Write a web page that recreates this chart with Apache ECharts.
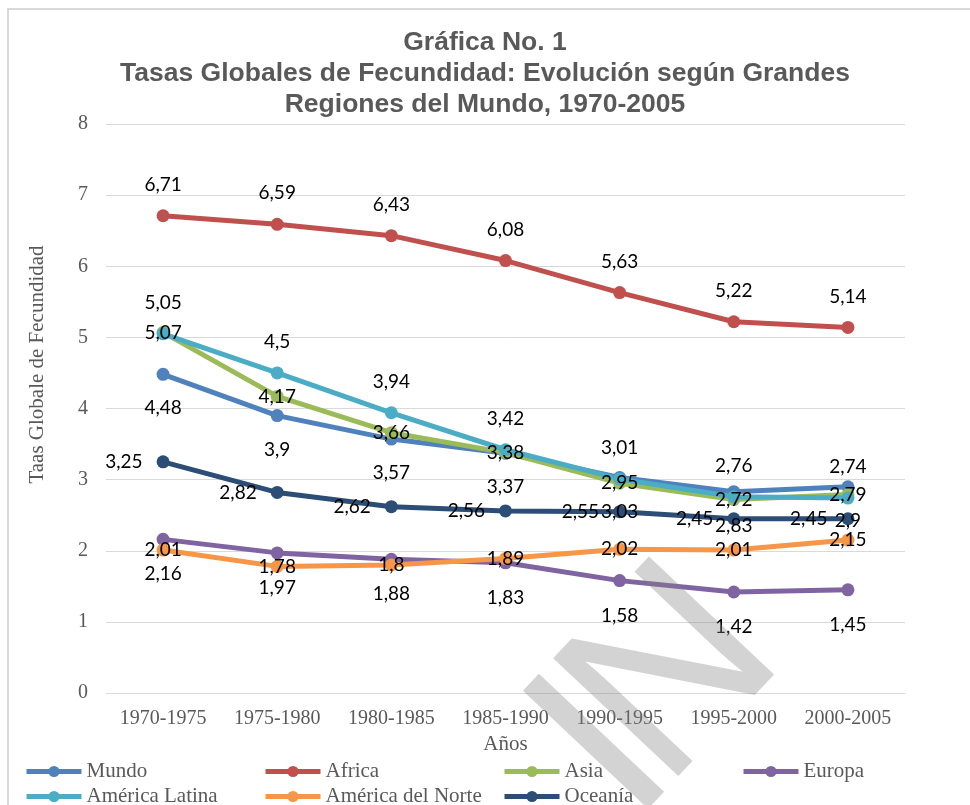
<!DOCTYPE html>
<html>
<head>
<meta charset="utf-8">
<script src="https://cdn.jsdelivr.net/npm/echarts@6/dist/echarts.min.js"></script>
<style>
  html, body { margin: 0; padding: 0; background: #fff; }
  #main { width: 970px; height: 805px; }
</style>
</head>
<body>
<div id="main"></div>
<script>
var periodos = ['1970-1975', '1975-1980', '1980-1985', '1985-1990', '1990-1995', '1995-2000', '2000-2005'];
var mundo = [4.48, 3.9, 3.57, 3.37, 3.03, 2.83, 2.9];
var africa = [6.71, 6.59, 6.43, 6.08, 5.63, 5.22, 5.14];
var asia = [5.07, 4.17, 3.66, 3.38, 2.95, 2.72, 2.79];
var europa = [2.16, 1.97, 1.88, 1.83, 1.58, 1.42, 1.45];
var americaLatina = [5.05, 4.5, 3.94, 3.42, 3.01, 2.76, 2.74];
var americaNorte = [2.01, 1.78, 1.8, 1.89, 2.02, 2.01, 2.15];
var oceania = [3.25, 2.82, 2.62, 2.56, 2.55, 2.45, 2.45];

var serif = '"Liberation Serif", "DejaVu Serif", serif';
var gris = '#595959';

function serie(nombre, datos, color, pos, dist) {
    return {
        name: nombre,
        type: 'line',
        data: datos,
        symbol: 'circle',
        symbolSize: 13,
        lineStyle: { width: 5, color: color },
        itemStyle: { color: color, borderWidth: 0 },
        label: {
            show: true,
            position: pos,
            distance: dist,
            color: '#000',
            fontFamily: 'Lato, "Open Sans", sans-serif',
            fontSize: 19,
            textBorderWidth: 0,
            formatter: function(p) { return String(p.value).replace('.', ','); }
        },
        emphasis: { disabled: true },
        animation: false
    };
}

// leyenda en columnas fijas, como en Excel
var nombresLeyenda = [['Mundo', 'Africa', 'Asia', 'Europa'], ['América Latina', 'América del Norte', 'Oceanía']];
var columnas = [24, 263, 502, 741];
var filas = [761, 786];
var leyendas = [];
nombresLeyenda.forEach(function(fila, i) {
    fila.forEach(function(nombre, j) {
        leyendas.push({
            left: columnas[j],
            top: filas[i],
            padding: 0,
            itemWidth: 55,
            itemHeight: 14,
            selectedMode: false,
            lineStyle: { width: 5 },
            data: [nombre],
            textStyle: { fontFamily: serif, fontSize: 21, color: gris }
        });
    });
});

// marca de agua (texto gris girado)
function marca(txt, x, y) {
    return {
        type: 'text',
        silent: true,
        z: 100,
        x: x,
        y: y,
        rotation: 46.7 * Math.PI / 180,
        style: {
            text: txt,
            fontFamily: '"Liberation Sans", sans-serif',
            fontSize: 250,
            fill: 'rgba(130,130,130,0.35)',
            textAlign: 'center',
            textVerticalAlign: 'middle'
        }
    };
}

var myChart = echarts.init(document.getElementById('main'));
var option = {
    backgroundColor: '#fff',
    title: {
        text: 'Gráfica No. 1\nTasas Globales de Fecundidad: Evolución según Grandes\nRegiones del Mundo, 1970-2005',
        left: 'center',
        top: 27,
        padding: 0,
        textStyle: {
            fontFamily: '"Liberation Sans", Arial, sans-serif',
            fontSize: 26.5,
            fontWeight: 'bold',
            color: gris,
            lineHeight: 31
        }
    },
    legend: leyendas,
    grid: { left: 106, right: 65, top: 124, bottom: 112 },
    xAxis: {
        type: 'category',
        data: periodos,
        name: 'Años',
        nameLocation: 'middle',
        nameGap: 31,
        nameTextStyle: { fontFamily: serif, fontSize: 21, color: gris },
        axisLine: { lineStyle: { color: '#D9D9D9' } },
        axisTick: { show: false },
        axisLabel: { fontFamily: serif, fontSize: 20, color: gris, margin: 16 }
    },
    yAxis: {
        type: 'value',
        min: 0,
        max: 8,
        interval: 1,
        name: 'Taas Globale de Fecundidad',
        nameLocation: 'middle',
        nameGap: 58,
        nameTextStyle: { fontFamily: serif, fontSize: 21, color: gris, padding: [0, 0, 0, 88] },
        axisLine: { show: false },
        axisTick: { show: false },
        axisLabel: { fontFamily: serif, fontSize: 20, color: gris, margin: 18 },
        splitLine: { lineStyle: { color: '#D9D9D9', width: 1 } }
    },
    series: [
        serie('Mundo', mundo, '#4F81BD', 'bottom', 18),
        serie('Africa', africa, '#C0504D', 'top', 15),
        serie('Asia', asia, '#9BBB59', 'inside', 0),
        serie('Europa', europa, '#8064A2', 'bottom', 19),
        serie('América Latina', americaLatina, '#4BACC6', 'top', 15),
        serie('América del Norte', americaNorte, '#F79646', 'inside', 0),
        serie('Oceanía', oceania, '#2C4D75', 'left', 14)
    ],
    graphic: [
        {
            type: 'rect',
            silent: true,
            shape: { x: 8, y: 9, width: 1000, height: 1000 },
            style: { fill: 'none', stroke: '#D9D9D9', lineWidth: 2 }
        },
        marca('I', 606, 753),
        marca('N', 676, 678)
    ]
};
myChart.setOption(option);
</script>
</body>
</html>
